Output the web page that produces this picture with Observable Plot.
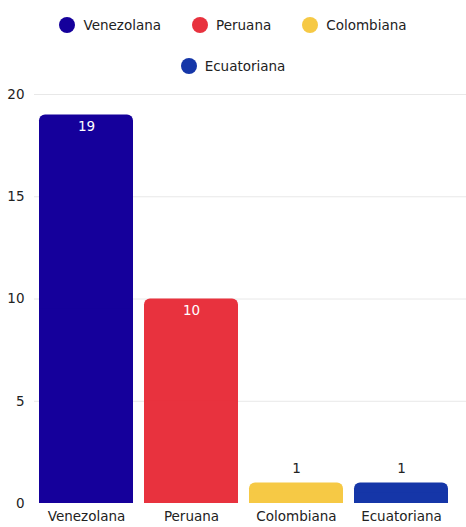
<!DOCTYPE html>
<html><head><meta charset="utf-8">
<script src="https://cdn.jsdelivr.net/npm/d3@7"></script>
<script src="https://cdn.jsdelivr.net/npm/@observablehq/plot@0.6"></script>
<style>
body{margin:0;background:#fff;font-family:"DejaVu Sans",sans-serif;}
#legend{height:84px;width:466px;box-sizing:border-box;padding:14px 24px 0;display:flex;flex-wrap:wrap;justify-content:center;align-content:flex-start;row-gap:19px;column-gap:31px;font-size:13.5px;color:#222;}
.item{display:flex;align-items:center;gap:8px;height:22px;}
.dot{width:16px;height:16px;border-radius:50%;display:inline-block;}
</style></head>
<body>
<div id="legend"></div>
<div id="chart"></div>
<script>
const categories = ["Venezolana","Peruana","Colombiana","Ecuatoriana"];
const values = [19,10,1,1];
const colors = ["#15009b","#e8323e","#f6c945","#1536a8"];
const yTicks = [0,5,10,15,20];

const data = categories.map((c,i)=>({cat:c,value:values[i],color:colors[i]}));

const leg = document.getElementById("legend");
categories.forEach((c,i)=>{
  const it=document.createElement("div");it.className="item";
  const d=document.createElement("span");d.className="dot";d.style.background=colors[i];
  const t=document.createElement("span");t.textContent=c;
  it.appendChild(d);it.appendChild(t);leg.appendChild(it);
});

const chart = Plot.plot({
  width:466,height:443,
  marginTop:10,marginBottom:24,marginLeft:26,marginRight:5,
  style:{fontFamily:"'DejaVu Sans', sans-serif",fontSize:"13.5px",color:"#222"},
  x:{domain:categories,padding:0.104,label:null,tickSize:0,tickPadding:8},
  y:{domain:[0,20],ticks:yTicks,label:null,tickSize:0,tickPadding:2,grid:false},
  marks:[
    Plot.ruleY(yTicks.filter(d=>d>0),{stroke:"#e8e8e8",strokeWidth:1,insetLeft:8,insetRight:-5}),
    Plot.barY(data,{x:"cat",y:"value",fill:"color",rx:6}),
    Plot.barY(data,{x:"cat",y:d=>d.value/2,fill:"color"}),
    Plot.text(data.filter(d=>d.value>=5),{x:"cat",y:"value",text:d=>String(d.value),fill:"white",dy:12,fontSize:13.5}),
    Plot.text(data.filter(d=>d.value<5),{x:"cat",y:"value",text:d=>String(d.value),fill:"#222",dy:-14,fontSize:13.5})
  ]
});
document.getElementById("chart").appendChild(chart);
</script>
</body></html>
